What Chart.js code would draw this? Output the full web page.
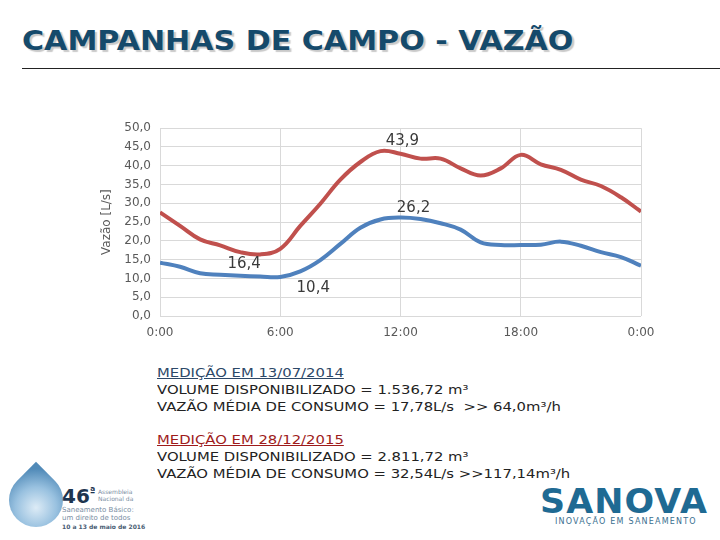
<!DOCTYPE html>
<html>
<head>
<meta charset="utf-8">
<script src="https://cdn.jsdelivr.net/npm/chart.js@4"></script>
<style>
  html, body { margin: 0; padding: 0; background: #fff; }
  #page { position: relative; width: 720px; height: 540px; overflow: hidden; background: #fff; font-family: "DejaVu Sans", Verdana, sans-serif; }
  #title { position: absolute; left: 22px; top: 26px; font-size: 26px; font-weight: bold; color: #154a6b;
           text-shadow: 2px 2px 1px #c9c9c9; white-space: nowrap; transform-origin: left top; }
  #rule { position: absolute; left: 22px; top: 68px; width: 698px; height: 1px; background: #222; }
  #chartBox { position: absolute; left: 100px; top: 112px; width: 570px; height: 232px; }
  .line { position: absolute; left: 157px; font-size: 13px; line-height: 17px; white-space: nowrap; color: #222;
          transform: scaleX(1.14); transform-origin: left top; }
  .h1 { color: #2c4868; text-decoration: underline; }
  .h2 { color: #9e1b1b; text-decoration: underline; }
  #drop { position: absolute; left: 9px; top: 473px; width: 54px; height: 54px; border-radius: 50% 0 50% 50%;
          transform: rotate(-45deg); background: radial-gradient(circle at 40% 60%, #d9e9f5 0%, #8dbadc 45%, #3d7db0 85%); opacity: 0.9; }
  #assem { position: absolute; left: 62px; top: 484px; font-size: 20px; font-weight: bold; color: #1d3550; }
  #assem sup { font-size: 10px; }
  .small { position: absolute; font-size: 6px; color: #7a8ea3; white-space: nowrap; }
  #sanova { position: absolute; left: 540px; top: 482px; font-size: 33px; font-weight: bold; color: #1f6a93; letter-spacing: 1px;
            transform-origin: left top; }
  #sanovaSub { position: absolute; left: 555px; top: 517px; font-size: 8px; color: #3a6f8f; white-space: nowrap; letter-spacing: 1.2px; }
</style>
</head>
<body>
<div id="page">
  <div id="title">CAMPANHAS DE CAMPO - VAZÃO</div>
  <div id="rule"></div>
  <div id="chartBox"><canvas id="vazaoChart"></canvas></div>

  <div class="line h1" style="top:364px">MEDIÇÃO EM 13/07/2014</div>
  <div class="line" style="top:381px">VOLUME DISPONIBILIZADO = 1.536,72 m³</div>
  <div class="line" style="top:398px">VAZÃO MÉDIA DE CONSUMO = 17,78L/s &nbsp;&gt;&gt; 64,0m³/h</div>
  <div class="line h2" style="top:431px">MEDIÇÃO EM 28/12/2015</div>
  <div class="line" style="top:448px">VOLUME DISPONIBILIZADO = 2.811,72 m³</div>
  <div class="line" style="top:465px">VAZÃO MÉDIA DE CONSUMO = 32,54L/s &gt;&gt;117,14m³/h</div>

  <div id="drop"></div>
  <div id="assem">46<sup>ª</sup></div>
  <div class="small" style="left:98px; top:488px">Assembleia</div>
  <div class="small" style="left:98px; top:495px">Nacional da</div>
  <div class="small" style="left:62px; top:506px; font-size:7px">Saneamento Básico:</div>
  <div class="small" style="left:62px; top:514px; font-size:7px">um direito de todos</div>
  <div class="small" style="left:62px; top:523px; font-weight:bold; color:#4a5d73">10 a 13 de maio de 2016</div>
  <div id="sanova">SANOVA</div>
  <div id="sanovaSub">INOVAÇÃO EM SANEAMENTO</div>
</div>

<script>
// hours of the day (x axis) and the two measurement campaigns (L/s)
const hours = [0, 1, 2, 3, 4, 5, 6, 7, 8, 9, 10, 11, 12, 13, 14, 15, 16, 17, 18, 19, 20, 21, 22, 23, 24];
const vazao2014 = [14.2, 13.1, 11.4, 11.0, 10.7, 10.5, 10.4, 11.9, 14.9, 19.2, 23.5, 25.7, 26.2, 25.8, 24.7, 23.0, 19.6, 18.9, 18.9, 19.0, 19.8, 18.7, 17.0, 15.7, 13.4];
const vazao2015 = [27.6, 24.0, 20.4, 18.8, 17.0, 16.4, 17.9, 24.0, 29.9, 36.3, 41.0, 43.9, 43.2, 41.9, 41.9, 39.3, 37.4, 39.3, 42.9, 40.4, 38.9, 36.3, 34.6, 31.6, 27.8];
const xTickLabels = ['0:00', '6:00', '12:00', '18:00', '0:00'];

// data labels shown on the chart: which series / hour, and where the text sits relative to the point
const labelPoints = [
    { series: 1, hour: 11, dx: 22, dy: -10 },
    { series: 0, hour: 12, dx: 13, dy: -9 },
    { series: 1, hour: 5, dx: -16, dy: 10 },
    { series: 0, hour: 6, dx: 33, dy: 11 }
];

const fmt = v => v.toFixed(1).replace('.', ',');

// stretch title and logo text to the widths they have in the slide
const title = document.getElementById('title');
title.style.transform = 'scaleX(' + (551 / title.offsetWidth) + ')';
const sanova = document.getElementById('sanova');
sanova.style.transform = 'scaleX(' + (168 / sanova.offsetWidth) + ')';

const valueLabels = {
    id: 'valueLabels',
    afterDatasetsDraw(chart) {
        const ctx = chart.ctx;
        const xs = chart.scales.x, ys = chart.scales.y;
        ctx.save();
        ctx.font = '15px "DejaVu Sans"';
        ctx.fillStyle = '#3a3a3a';
        ctx.textAlign = 'center';
        ctx.textBaseline = 'middle';
        labelPoints.forEach(p => {
            const vals = chart.data.datasets[p.series].data;
            const pt = vals.find(d => d.x === p.hour);
            ctx.fillText(fmt(pt.y), xs.getPixelForValue(pt.x) + p.dx, ys.getPixelForValue(pt.y) + p.dy);
        });
        ctx.restore();
    }
};

const toPoints = vals => vals.map((v, i) => ({ x: hours[i], y: v }));

new Chart(document.getElementById('vazaoChart'), {
    type: 'line',
    data: {
        datasets: [
            { label: '13/07/2014', data: toPoints(vazao2014), borderColor: '#4f81bd', borderWidth: 4, pointRadius: 0, tension: 0.4 },
            { label: '28/12/2015', data: toPoints(vazao2015), borderColor: '#c0504d', borderWidth: 4, pointRadius: 0, tension: 0.4 }
        ]
    },
    options: {
        responsive: true,
        maintainAspectRatio: false,
        animation: false,
        layout: { padding: { top: 10, right: 29, left: 0, bottom: 0 } },
        plugins: { legend: { display: false }, tooltip: { enabled: false } },
        scales: {
            x: {
                type: 'linear', min: 0, max: 24,
                grid: { color: '#d9d9d9', drawTicks: false },
                border: { display: false },
                ticks: {
                    stepSize: 6, padding: 10, color: '#595959', font: { family: 'DejaVu Sans', size: 12 },
                    callback: v => xTickLabels[v / 6]
                },
                afterFit: s => { s.height = 28; }
            },
            y: {
                min: 0, max: 50,
                grid: { color: '#d9d9d9', drawTicks: false },
                border: { display: false },
                ticks: { stepSize: 5, padding: 9, color: '#595959', font: { family: 'DejaVu Sans', size: 12 }, callback: v => fmt(v) },
                title: { display: true, text: 'Vazão [L/s]', color: '#595959', font: { family: 'DejaVu Sans', size: 12 }, padding: 0 },
                afterFit: s => { s.width = 60; }
            }
        }
    },
    plugins: [valueLabels]
});
</script>
</body>
</html>
